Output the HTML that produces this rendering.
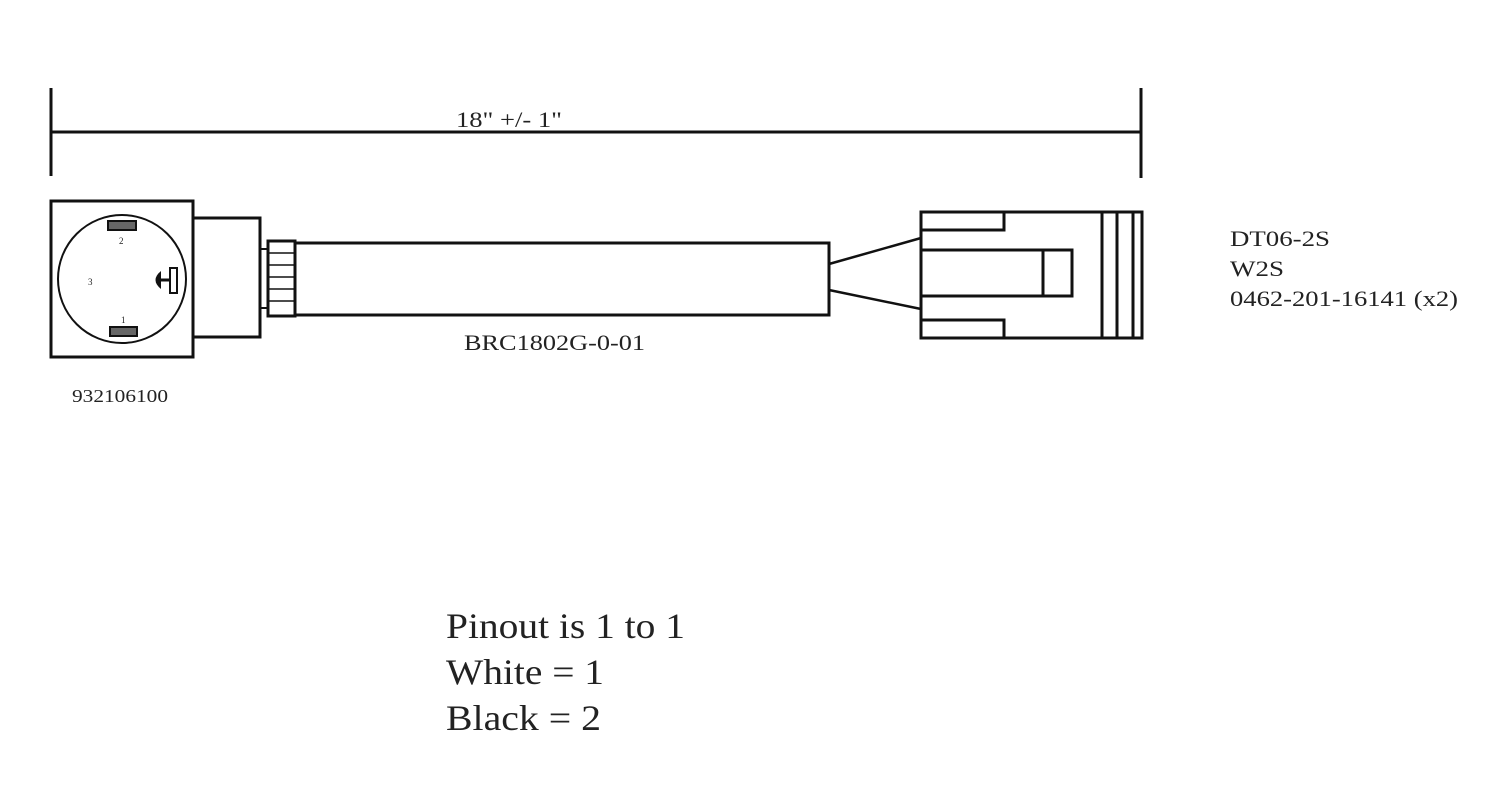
<!DOCTYPE html>
<html><head><style>html,body{margin:0;padding:0;background:#fff}svg{display:block}</style></head>
<body>
<svg width="1500" height="798" viewBox="0 0 1500 798" xmlns="http://www.w3.org/2000/svg" font-family="Liberation Serif, serif" fill="none" stroke="#111">
<g stroke-width="3">
<line x1="51" y1="88" x2="51" y2="176"/>
<line x1="1141" y1="88" x2="1141" y2="178"/>
<line x1="51" y1="132" x2="1141" y2="132"/>
<rect x="51" y="201" width="142" height="156"/>
<rect x="193" y="218" width="67" height="119"/>
<rect x="260" y="249" width="8" height="59" stroke-width="2"/>
<rect x="268" y="241" width="27" height="75"/>
<rect x="295" y="243" width="534" height="72"/>
<line x1="829" y1="264" x2="921" y2="238" stroke-width="2.5"/>
<line x1="829" y1="290" x2="921" y2="309" stroke-width="2.5"/>
<rect x="921" y="212" width="221" height="126"/>
<rect x="921" y="212" width="83" height="18"/>
<rect x="921" y="320" width="83" height="18"/>
<rect x="921" y="250" width="151" height="46"/>
<line x1="1043" y1="250" x2="1043" y2="296"/>
<line x1="1102" y1="212" x2="1102" y2="338"/>
<line x1="1117" y1="212" x2="1117" y2="338"/>
<line x1="1133" y1="212" x2="1133" y2="338"/>
</g>
<g stroke-width="1.5">
<line x1="268" y1="253" x2="295" y2="253"/>
<line x1="268" y1="265" x2="295" y2="265"/>
<line x1="268" y1="277" x2="295" y2="277"/>
<line x1="268" y1="289" x2="295" y2="289"/>
<line x1="268" y1="301" x2="295" y2="301"/>
</g>
<circle cx="122" cy="279" r="64" stroke-width="2"/>
<rect x="108" y="221" width="28" height="9" fill="#666" stroke-width="2"/>
<rect x="110" y="327" width="27" height="9" fill="#666" stroke-width="2"/>
<rect x="170" y="268" width="7" height="25" stroke-width="2"/>
<line x1="160" y1="280" x2="170" y2="280" stroke-width="3"/>
<path d="M161 271 Q150 280 161 289 Z" fill="#111" stroke="none"/>
<g fill="#222" stroke="none" font-size="9">
<text x="119" y="244">2</text><text x="121" y="323">1</text><text x="88" y="285">3</text>
</g>
<g fill="#222" stroke="none" lengthAdjust="spacingAndGlyphs">
<text x="456" y="127" font-size="22" textLength="106" lengthAdjust="spacingAndGlyphs">18" +/- 1"</text>
<text x="464" y="350" font-size="22" textLength="181" lengthAdjust="spacingAndGlyphs">BRC1802G-0-01</text>
<text x="72" y="402" font-size="18" textLength="96" lengthAdjust="spacingAndGlyphs">932106100</text>
<text x="1230" y="246" font-size="22" textLength="100" lengthAdjust="spacingAndGlyphs">DT06-2S</text>
<text x="1230" y="276" font-size="22" textLength="54" lengthAdjust="spacingAndGlyphs">W2S</text>
<text x="1230" y="306" font-size="22" textLength="228" lengthAdjust="spacingAndGlyphs">0462-201-16141 (x2)</text>
<text x="446" y="638" font-size="36" textLength="239" lengthAdjust="spacingAndGlyphs">Pinout is 1 to 1</text>
<text x="446" y="684" font-size="36" textLength="158" lengthAdjust="spacingAndGlyphs">White = 1</text>
<text x="446" y="730" font-size="36" textLength="155" lengthAdjust="spacingAndGlyphs">Black = 2</text>
</g>
</svg>
</body></html>
